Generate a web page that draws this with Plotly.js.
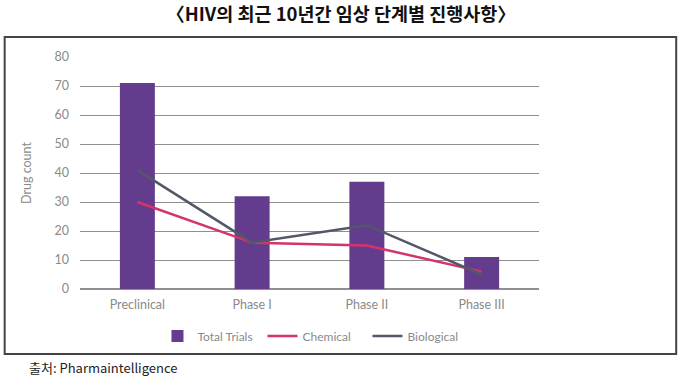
<!DOCTYPE html>
<html>
<head>
<meta charset="utf-8">
<script src="https://cdn.plot.ly/plotly-3.0.1.min.js"></script>
<style>
html,body{margin:0;padding:0;background:#fff;}
#chart{width:682px;height:382px;}
</style>
</head>
<body>
<div id="chart"></div>
<script>
const phases = ["Preclinical", "Phase I", "Phase II", "Phase III"];
const totalTrials = [71, 32, 37, 11];
const chemical = [30, 16, 15, 6];
const biological = [41, 16, 22, 5];
const yTicks = [0, 10, 20, 30, 40, 50, 60, 70, 80];

const L = 79.5, R = 539.5, T = 57, B = 289;
const W = 682, H = 382;
const px = x => (x - L) / (R - L);
const py = y => (B - y) / (B - T);

const traces = [
  {type: "bar", name: "Total Trials", x: phases, y: totalTrials,
   marker: {color: "#643c8e"}},
  {type: "scatter", mode: "lines", name: "Chemical", x: phases, y: chemical,
   line: {color: "#d5336d", width: 2.5}},
  {type: "scatter", mode: "lines", name: "Biological", x: phases, y: biological,
   line: {color: "#525868", width: 2.5}}
];

const font = {family: "Lato, 'Open Sans', sans-serif", color: "#8a8a8a", size: 12};

const layout = {
  width: W, height: H,
  margin: {l: L, r: W - R, t: T, b: H - B, pad: 0},
  paper_bgcolor: "#fff", plot_bgcolor: "#fff",
  font: font,
  showlegend: true,
  bargap: 0.695,
  title: {text: "〈HIV의 최근 10년간 임상 단계별 진행사항〉",
    font: {family: "'Noto Sans CJK KR', sans-serif", size: 18.5, color: "#111", weight: "bold"},
    x: 0.5, xref: "container", xanchor: "center", y: 1 - 15/H, yref: "container", yanchor: "middle"},
  xaxis: {type: "category", range: [-0.5, 3.5], showgrid: false, zeroline: false,
    showline: false, ticks: "", tickfont: {size: 12.5, color: "#8a8a8a"}, ticklabelstandoff: 6},
  yaxis: {range: [0, 80], tickvals: yTicks, showgrid: true, gridcolor: "#8f8f8f", gridwidth: 1,
    zeroline: true, zerolinecolor: "#8f8f8f", zerolinewidth: 1.5, showline: false, ticks: "",
    tickfont: {size: 12.5, color: "#8a8a8a"}, ticklabelstandoff: 10,
    title: {text: "Drug count", font: {size: 12.5, color: "#8a8a8a"}, standoff: 20}},
  legend: {orientation: "h", x: px(315), xanchor: "center", y: py(336), yanchor: "middle",
    font: {size: 12, color: "#8a8a8a"}, itemwidth: 30, tracegroupgap: 0,
    entrywidth: 60, entrywidthmode: "pixels"},
  shapes: [
    {type: "rect", xref: "paper", yref: "paper", x0: px(4), x1: px(677), y0: py(354), y1: py(37),
     line: {color: "#444", width: 2}, fillcolor: "rgba(0,0,0,0)", layer: "below"}
  ],
  annotations: [
    {text: "출처: Pharmaintelligence", xref: "paper", yref: "paper", x: px(26), y: py(367),
     xanchor: "left", yanchor: "middle", showarrow: false,
     font: {family: "'Noto Sans CJK KR', sans-serif", size: 13, color: "#222"}}
  ]
};

Plotly.newPlot("chart", traces, layout, {displayModeBar: false, staticPlot: true});
</script>
</body>
</html>
